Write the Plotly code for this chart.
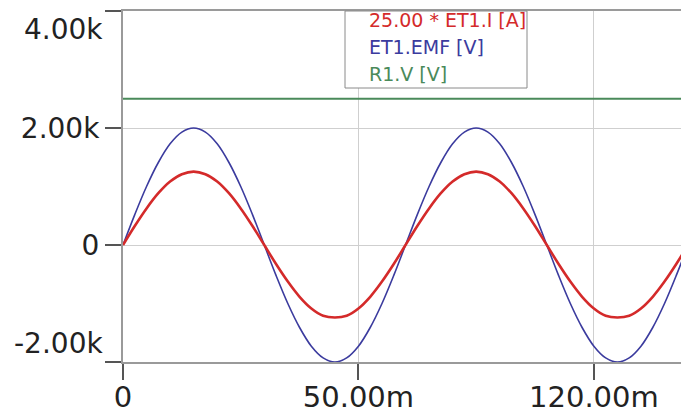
import plotly.graph_objects as go

# time in seconds
time_s = [i * 0.0025 for i in range(49)]
# ET1.EMF [V]
emf_v = [0, 520, 1000, 1410, 1730, 1930, 2000, 1930, 1730, 1410, 1000, 520,
         0, -520, -1000, -1410, -1730, -1930, -2000, -1930, -1730, -1410, -1000, -520,
         0, 520, 1000, 1410, 1730, 1930, 2000, 1930, 1730, 1410, 1000, 520,
         0, -520, -1000, -1410, -1730, -1930, -2000, -1930, -1730, -1410, -1000, -520, 0]
# 25.00 * ET1.I [A]
cur_scaled = [0, 325, 625, 885, 1085, 1210, 1255, 1210, 1085, 885, 625, 325,
              0, -325, -625, -885, -1085, -1210, -1240, -1210, -1085, -885, -625, -325,
              0, 325, 625, 885, 1085, 1210, 1255, 1210, 1085, 885, 625, 325,
              0, -325, -625, -885, -1085, -1210, -1240, -1210, -1085, -885, -625, -325, 0]
# R1.V [V]
r1_v = [2500] * 49

series_names = ["25.00 * ET1.I [A]", "ET1.EMF [V]", "R1.V [V]"]
series_colors = ["#d42a2a", "#3b3b9e", "#4a8a5a"]

x_tickvals = [0, 0.05, 0.1]
x_ticktext = ["0", "50.00m", "120.00m"]
y_tickvals = [-2000, 0, 2000, 4000]
y_ticktext = ["", "0", "2.00k", ""]

fig = go.Figure()
fig.add_trace(go.Scatter(x=time_s, y=r1_v, mode="lines", name=series_names[2],
                         line=dict(color=series_colors[2], width=2)))
fig.add_trace(go.Scatter(x=time_s, y=emf_v, mode="lines", name=series_names[1],
                         line=dict(color=series_colors[1], width=1.6, shape="spline")))
fig.add_trace(go.Scatter(x=time_s, y=cur_scaled, mode="lines", name=series_names[0],
                         line=dict(color=series_colors[0], width=2.6, shape="spline")))

font_family = "DejaVu Sans"
axis_col = "#9a9a9a"
grid_col = "#cfcfcf"

fig.update_layout(
    width=681, height=413,
    margin=dict(l=123, r=0, t=11, b=51),
    paper_bgcolor="white", plot_bgcolor="white",
    showlegend=False,
    font=dict(family=font_family, color="#222222"),
    xaxis=dict(range=[0, 0.1185], tickvals=x_tickvals, ticktext=x_ticktext,
               ticks="outside", ticklen=16, tickcolor="#555555", tickwidth=1.5,
               showline=True, linecolor=axis_col, linewidth=2, mirror=True,
               showgrid=True, gridcolor=grid_col, gridwidth=1, zeroline=False,
               automargin=False, ticklabelstandoff=-8,
               tickfont=dict(size=29, family=font_family, color="#222222")),
    yaxis=dict(range=[-2000, 4000], tickvals=y_tickvals, ticktext=y_ticktext,
               ticks="outside", ticklen=16, tickcolor="#555555", tickwidth=1.5,
               showline=True, linecolor=axis_col, linewidth=2,
               showgrid=True, gridcolor=grid_col, gridwidth=1, zeroline=False,
               automargin=False,
               tickfont=dict(size=28, family=font_family, color="#222222")),
)

# shifted end labels of the y axis
fig.add_annotation(text="4.00k", xref="paper", x=0, xanchor="right", xshift=-18,
                   yref="y", y=4000, yanchor="top", showarrow=False,
                   font=dict(size=28, family=font_family, color="#222222"))
fig.add_annotation(text="-2.00k", xref="paper", x=0, xanchor="right", xshift=-18,
                   yref="y", y=-2000, yanchor="bottom", showarrow=False,
                   font=dict(size=28, family=font_family, color="#222222"))

# legend box
fig.add_shape(type="rect", xref="paper", yref="paper",
              x0=(345 - 123) / 558, x1=(527 - 123) / 558,
              y0=(362 - 88) / 351, y1=1,
              line=dict(color="#8a8a8a", width=1), fillcolor="white", layer="above")
legend_y = [20, 47, 74]
for name, col, py in zip(series_names, series_colors, legend_y):
    fig.add_annotation(text=name, xref="paper", yref="paper",
                       x=(367 - 123) / 558, xanchor="left",
                       y=(362 - py) / 351, yanchor="middle", showarrow=False,
                       font=dict(size=19, family=font_family, color=col))

fig.write_html("out.html", config={"displayModeBar": False},
               post_script="document.body.style.margin='0';document.body.style.overflow='hidden';")
